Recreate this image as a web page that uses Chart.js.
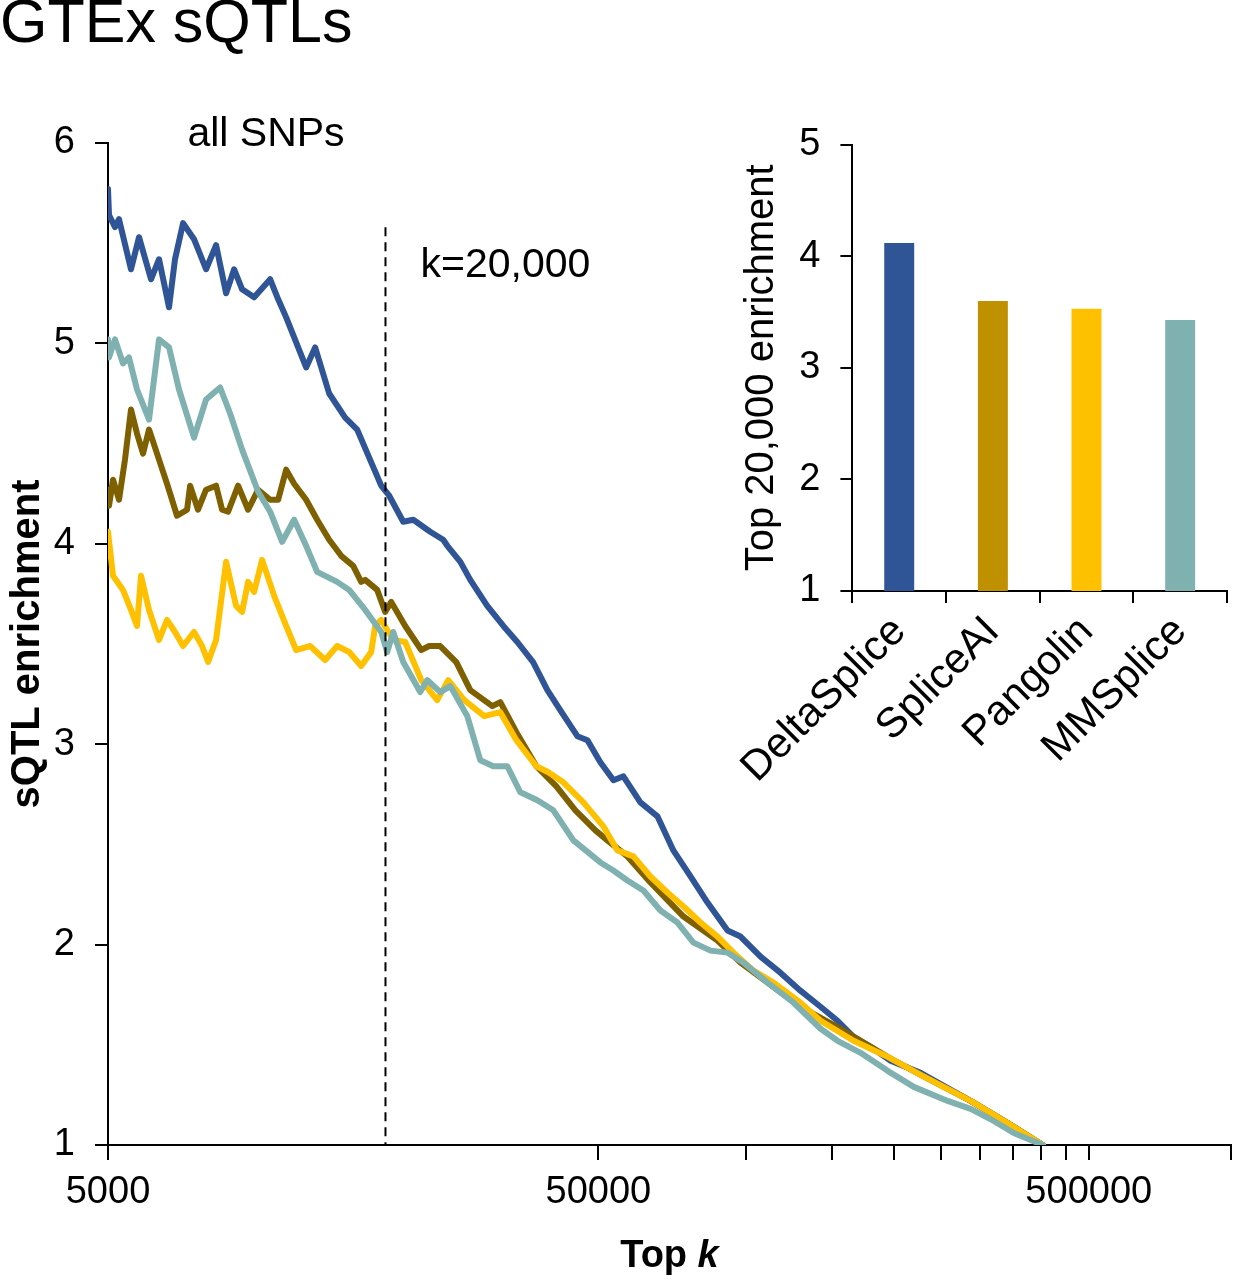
<!DOCTYPE html>
<html>
<head>
<meta charset="utf-8">
<title>GTEx sQTLs</title>
<script src="https://cdn.jsdelivr.net/npm/chart.js@4.4.1/dist/chart.umd.min.js"></script>
<style>
    body { margin: 0; background: #fff; overflow: hidden; }
    #wrap { position: relative; width: 1233px; height: 1280px; overflow: hidden; }
    #mainChart { position: absolute; left: 0; top: 0; }
    #barChart { position: absolute; left: 730px; top: 102px; }
</style>
</head>
<body>
<div id="wrap">
    <canvas id="mainChart" width="1241" height="1280"></canvas>
    <canvas id="barChart" width="503" height="698"></canvas>
</div>
<script>
// ---- line chart data (top k on a log axis, sQTL enrichment) ----
var deltaSpliceK = [5000, 5024, 5167, 5265, 5570, 5784, 6119, 6354, 6659, 6849, 7113, 7489, 7924, 8306, 8706, 9040, 9385, 9931, 10707, 11117, 11543, 12677, 13224, 14125, 15226, 16112, 18033, 18725, 20000, 20967, 22700, 24130, 24600, 26150, 27400, 29670, 32000, 34170, 36800, 39350, 41800, 45300, 47500, 50460, 53670, 56230, 60900, 65970, 71100, 77060, 83460, 91700, 97460, 107070, 117500, 129100, 141900, 153700, 165700, 179500, 197200, 227000, 287000, 341700, 402700];
var deltaSpliceEnrichment = [5.77, 5.64, 5.58, 5.62, 5.37, 5.53, 5.32, 5.42, 5.18, 5.42, 5.60, 5.52, 5.37, 5.49, 5.25, 5.37, 5.27, 5.23, 5.32, 5.22, 5.13, 4.88, 4.98, 4.75, 4.63, 4.57, 4.29, 4.24, 4.11, 4.12, 4.06, 4.02, 3.99, 3.91, 3.82, 3.69, 3.59, 3.51, 3.41, 3.27, 3.17, 3.04, 3.02, 2.91, 2.82, 2.84, 2.71, 2.64, 2.47, 2.34, 2.21, 2.07, 2.04, 1.94, 1.86, 1.77, 1.69, 1.62, 1.54, 1.49, 1.42, 1.36, 1.22, 1.11, 1.00];

var spliceAIK = [5000, 5024, 5119, 5265, 5415, 5570, 5730, 5894, 6062, 6295, 6597, 6914, 7249, 7352, 7631, 7924, 8306, 8544, 8788, 9211, 9653, 10119, 10707, 11117, 11541, 11983, 12677, 13350, 14125, 14944, 15811, 16417, 16728, 17697, 18374, 18903, 20187, 21766, 22598, 23795, 25655, 27400, 30385, 31548, 34018, 37371, 41044, 44882, 49303, 52166, 57308, 63840, 74553, 87480, 97450, 110650, 129170, 155920, 194440, 227140, 287150, 341790, 402700];
var spliceAIEnrichment = [4.27, 4.19, 4.32, 4.22, 4.42, 4.67, 4.55, 4.45, 4.57, 4.45, 4.30, 4.14, 4.17, 4.29, 4.17, 4.27, 4.29, 4.17, 4.16, 4.29, 4.17, 4.27, 4.22, 4.22, 4.37, 4.30, 4.22, 4.12, 4.02, 3.94, 3.89, 3.81, 3.82, 3.77, 3.66, 3.71, 3.59, 3.47, 3.49, 3.49, 3.41, 3.27, 3.19, 3.21, 3.06, 2.89, 2.79, 2.67, 2.57, 2.52, 2.44, 2.31, 2.14, 2.02, 1.91, 1.81, 1.69, 1.58, 1.44, 1.35, 1.22, 1.11, 1.00];

var pangolinK = [5000, 5119, 5365, 5570, 5730, 5839, 6062, 6354, 6597, 6849, 7113, 7489, 7776, 8000, 8306, 8706, 9124, 9385, 9653, 9931, 10310, 10910, 11541, 12096, 12917, 13862, 14666, 15516, 16417, 17205, 17531, 18033, 19082, 20187, 21766, 23462, 24706, 26638, 29258, 31548, 34018, 37371, 39533, 42417, 46599, 51190, 54673, 58939, 63840, 69141, 74553, 80763, 87480, 94297, 103590, 113810, 129170, 141930, 165710, 194440, 227140, 252970, 287150, 341790, 402700];
var pangolinEnrichment = [4.06, 3.84, 3.77, 3.67, 3.59, 3.84, 3.67, 3.52, 3.62, 3.56, 3.49, 3.56, 3.49, 3.41, 3.52, 3.91, 3.69, 3.66, 3.81, 3.76, 3.92, 3.74, 3.59, 3.47, 3.49, 3.42, 3.49, 3.46, 3.39, 3.46, 3.59, 3.62, 3.52, 3.51, 3.32, 3.22, 3.32, 3.22, 3.14, 3.16, 3.02, 2.89, 2.86, 2.81, 2.71, 2.59, 2.47, 2.44, 2.34, 2.26, 2.19, 2.11, 2.04, 1.96, 1.87, 1.81, 1.71, 1.62, 1.52, 1.44, 1.35, 1.29, 1.22, 1.11, 1.00];

var mmspliceK = [5000, 5024, 5167, 5365, 5518, 5730, 6062, 6354, 6659, 6979, 7489, 7924, 8464, 8871, 9385, 10119, 10707, 11327, 11983, 12677, 13350, 14666, 15516, 16728, 18033, 18549, 19082, 20000, 21660, 22390, 23795, 24944, 27018, 28716, 30528, 32606, 34662, 37547, 40472, 44460, 50474, 53652, 57308, 61772, 66909, 72470, 78140, 84644, 91684, 98833, 110650, 125010, 141930, 153740, 171250, 194440, 219840, 257750, 287150, 319960, 351530, 402700];
var mmspliceEnrichment = [5.02, 4.93, 5.02, 4.90, 4.93, 4.77, 4.62, 5.02, 4.98, 4.77, 4.53, 4.72, 4.78, 4.65, 4.47, 4.26, 4.16, 4.01, 4.12, 3.99, 3.86, 3.81, 3.77, 3.67, 3.56, 3.46, 3.56, 3.41, 3.26, 3.32, 3.26, 3.29, 3.14, 2.92, 2.89, 2.89, 2.76, 2.72, 2.67, 2.52, 2.41, 2.37, 2.32, 2.27, 2.17, 2.11, 2.01, 1.97, 1.96, 1.91, 1.81, 1.71, 1.58, 1.52, 1.46, 1.37, 1.29, 1.22, 1.18, 1.12, 1.06, 1.00];

// x axis: ticks every 50000 after the second decade, labels only on 5000, 50000, 500000
var xMin = 5000;
var xMax = 975000;
var xTickValues = [5000, 50000, 100000, 150000, 200000, 250000, 300000, 350000, 400000, 450000, 500000, 975000];
var xTickLabels = [5000, 50000, 500000];
var yTickValues = [1, 2, 3, 4, 5, 6];

// dashed marker for the k=20,000 cut-off (placed where the figure draws it)
var cutoffK = 18400;
var cutoffTop = 5.58;

// ---- inset bar chart ----
var tools = ['DeltaSplice', 'SpliceAI', 'Pangolin', 'MMSplice'];
var top20kEnrichment = [4.12, 3.60, 3.53, 3.43];

var lineColors = ['#2F5597', '#7F6000', '#FFC000', '#80B1B1'];
var barColors = ['#2F5597', '#BF9000', '#FFC000', '#80B1B1'];

var FONT = "'Liberation Sans', Arial, sans-serif";
Chart.defaults.font.family = FONT;
Chart.defaults.color = '#000';

function pairs(ks, vals) {
    return ks.map(function (k, i) { return { x: k, y: vals[i] }; });
}

function lineSet(label, ks, vals, color, order) {
    return {
        label: label,
        data: pairs(ks, vals),
        borderColor: color,
        borderWidth: 6,
        pointRadius: 0,
        tension: 0,
        fill: false,
        borderJoinStyle: 'round',
        borderCapStyle: 'round',
        order: order
    };
}

// texts and the dashed cut-off line on the main chart
var overlayText = {
    id: 'overlayText',
    afterDatasetsDraw: function (chart) {
        var ctx = chart.ctx;
        var xs = chart.scales.x;
        var ys = chart.scales.y;
        var xc = xs.getPixelForValue(cutoffK);

        ctx.save();
        ctx.strokeStyle = '#000';
        ctx.lineWidth = 2;
        ctx.setLineDash([9, 6]);
        ctx.beginPath();
        ctx.moveTo(xc, ys.getPixelForValue(cutoffTop));
        ctx.lineTo(xc, ys.bottom);
        ctx.stroke();
        ctx.setLineDash([]);

        ctx.fillStyle = '#000';
        ctx.textBaseline = 'middle';
        ctx.font = '41px ' + FONT;
        ctx.textAlign = 'left';
        ctx.fillText('k=20,000', xc + 35, ys.getPixelForValue(5.39));
        ctx.textAlign = 'center';
        ctx.fillText('all SNPs', xs.getPixelForValue(10500), ys.getPixelForValue(6.04));

        ctx.textAlign = 'left';
        ctx.font = '61px ' + FONT;
        ctx.fillText('GTEx sQTLs', 0, 25);

        // x axis title "Top k" with an italic k
        var boldFont = 'bold 38px ' + FONT;
        var italFont = 'italic bold 38px ' + FONT;
        ctx.font = boldFont;
        var w1 = ctx.measureText('Top ').width;
        ctx.font = italFont;
        var w2 = ctx.measureText('k').width;
        var x0 = (xs.left + xs.right) / 2 - (w1 + w2) / 2;
        ctx.font = boldFont;
        ctx.fillText('Top ', x0, 1257);
        ctx.font = italFont;
        ctx.fillText('k', x0 + w1, 1257);
        ctx.restore();
    }
};

new Chart(document.getElementById('mainChart'), {
    type: 'line',
    data: {
        datasets: [
            lineSet('DeltaSplice', deltaSpliceK, deltaSpliceEnrichment, lineColors[0], 4),
            lineSet('SpliceAI', spliceAIK, spliceAIEnrichment, lineColors[1], 3),
            lineSet('Pangolin', pangolinK, pangolinEnrichment, lineColors[2], 2),
            lineSet('MMSplice', mmspliceK, mmspliceEnrichment, lineColors[3], 1)
        ]
    },
    options: {
        responsive: false,
        animation: false,
        layout: { padding: { top: 143, right: 3, left: 0, bottom: 0 } },
        plugins: { legend: { display: false }, tooltip: { enabled: false } },
        scales: {
            x: {
                type: 'logarithmic',
                min: xMin,
                max: xMax,
                afterBuildTicks: function (s) {
                    s.ticks = xTickValues.map(function (v) { return { value: v }; });
                },
                ticks: {
                    autoSkip: false,
                    maxRotation: 0,
                    padding: 10,
                    font: { size: 38 },
                    callback: function (v) { return xTickLabels.indexOf(v) >= 0 ? String(v) : ''; }
                },
                grid: { drawOnChartArea: false, tickLength: 15, color: '#000', lineWidth: 2 },
                border: { color: '#000', width: 2 },
                afterFit: function (s) { s.height = 135; }
            },
            y: {
                min: 1,
                max: 6,
                afterBuildTicks: function (s) {
                    s.ticks = yTickValues.map(function (v) { return { value: v }; });
                },
                ticks: { padding: 20, font: { size: 38 } },
                grid: { drawOnChartArea: false, tickLength: 13, color: '#000', lineWidth: 2 },
                border: { color: '#000', width: 2 },
                title: {
                    display: true,
                    text: 'sQTL enrichment',
                    font: { size: 40, weight: 'bold' },
                    padding: { top: 4 }
                },
                afterFit: function (s) { s.width = 108; }
            }
        }
    },
    plugins: [overlayText]
});

new Chart(document.getElementById('barChart'), {
    type: 'bar',
    data: {
        labels: tools,
        datasets: [{
            data: top20kEnrichment,
            backgroundColor: barColors,
            barPercentage: 0.32,
            categoryPercentage: 1
        }]
    },
    options: {
        responsive: false,
        animation: false,
        layout: { padding: { top: 7, right: 6, left: 0, bottom: 0 } },
        plugins: { legend: { display: false }, tooltip: { enabled: false } },
        scales: {
            x: {
                grid: { drawOnChartArea: false, tickLength: 12, color: '#000', lineWidth: 2, offset: true },
                border: { color: '#000', width: 2 },
                ticks: { autoSkip: false, minRotation: 45, maxRotation: 45, padding: 4, font: { size: 42 } },
                afterFit: function (s) { s.height = 209; }
            },
            y: {
                min: 1,
                max: 5,
                ticks: { stepSize: 1, padding: 20, font: { size: 38 } },
                grid: { drawOnChartArea: false, tickLength: 12, color: '#000', lineWidth: 2 },
                border: { color: '#000', width: 2 },
                title: {
                    display: true,
                    text: 'Top 20,000 enrichment',
                    font: { size: 40 },
                    padding: { top: 6 }
                },
                afterFit: function (s) { s.width = 120; }
            }
        }
    }
});
</script>
</body>
</html>
